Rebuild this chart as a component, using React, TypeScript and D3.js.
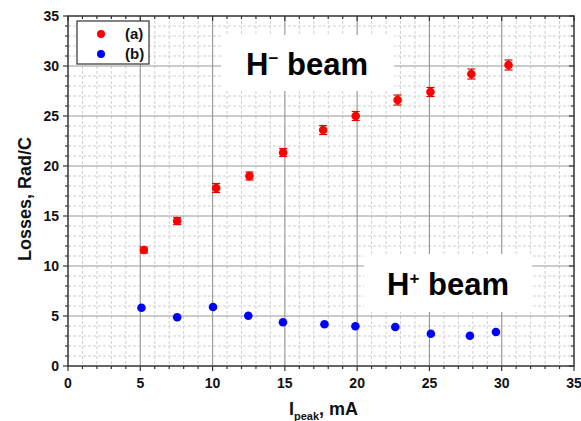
import React from "react";
import * as d3 from "d3";

const seriesA_x = [5.25, 7.55, 10.25, 12.55, 14.88, 17.65, 19.9, 22.8, 25.07, 27.9, 30.47];
const seriesA_y = [11.6, 14.5, 17.8, 19.0, 21.35, 23.6, 25.0, 26.6, 27.4, 29.2, 30.1];
const seriesA_err = [0.3, 0.35, 0.45, 0.4, 0.4, 0.45, 0.45, 0.5, 0.45, 0.5, 0.5];
const seriesB_x = [5.08, 7.55, 10.03, 12.47, 14.87, 17.74, 19.88, 22.64, 25.1, 27.8, 29.6];
const seriesB_y = [5.83, 4.87, 5.9, 5.03, 4.37, 4.17, 3.97, 3.9, 3.23, 3.03, 3.4];
const majorTicks = [0, 5, 10, 15, 20, 25, 30, 35];
const minorTicks = d3.range(0, 36, 1);
const legendLabels = ["(a)", "(b)"];

const W = 581, H = 421;
const L = 68, R = 574, T = 16, B = 366;
const FONT = "'Liberation Sans', Arial, sans-serif";

export default function App() {
  const x = d3.scaleLinear().domain([0, 35]).range([L, R]);
  const y = d3.scaleLinear().domain([0, 35]).range([B, T]);
  const fg = "#333";

  return (
    <svg width={W} height={H} style={{ position: "absolute", left: 0, top: 0, background: "#fff" }} fontFamily={FONT}>
      <rect x={0} y={0} width={W} height={H} fill="#fff" />
      {/* minor grid */}
      {minorTicks.filter(t => t % 5 !== 0).map(t => (
        <g key={"mg" + t}>
          <line x1={x(t)} x2={x(t)} y1={T} y2={B} stroke="#d0d0d0" strokeWidth={1} strokeDasharray="3,2" />
          <line x1={L} x2={R} y1={y(t)} y2={y(t)} stroke="#d0d0d0" strokeWidth={1} strokeDasharray="3,2" />
        </g>
      ))}
      {/* major grid */}
      {majorTicks.slice(1, -1).map(t => (
        <g key={"Mg" + t}>
          <line x1={x(t)} x2={x(t)} y1={T} y2={B} stroke="#9a9a9a" strokeWidth={1.2} />
          <line x1={L} x2={R} y1={y(t)} y2={y(t)} stroke="#9a9a9a" strokeWidth={1.2} />
        </g>
      ))}
      {/* text boxes */}
      <rect x={221} y={35} width={173} height={56} fill="#fff" />
      <text x={307} y={75} textAnchor="middle" fontSize={31} fontWeight="bold" fill="#000">
        H<tspan fontSize={17} dy={-11}>−</tspan><tspan dy={11}> beam</tspan>
      </text>
      <rect x={364} y={254} width={168} height={58} fill="#fff" />
      <text x={448} y={295} textAnchor="middle" fontSize={31} fontWeight="bold" fill="#000">
        H<tspan fontSize={17} dy={-11}>+</tspan><tspan dy={11}> beam</tspan>
      </text>
      {/* frame */}
      <rect x={L} y={T} width={R - L} height={B - T} fill="none" stroke={fg} strokeWidth={1.5} />
      {/* ticks */}
      {minorTicks.map(t => {
        const maj = t % 5 === 0;
        const len = maj ? 5 : 3;
        return (
          <g key={"t" + t} stroke={fg} strokeWidth={1.2}>
            <line x1={x(t)} x2={x(t)} y1={B} y2={B + len} />
            <line x1={x(t)} x2={x(t)} y1={T} y2={T + len} />
            <line x1={L - len} x2={L} y1={y(t)} y2={y(t)} />
            <line x1={R - len} x2={R} y1={y(t)} y2={y(t)} />
          </g>
        );
      })}
      {majorTicks.map(t => (
        <g key={"lab" + t} fontSize={14} fontWeight="bold" fill="#111">
          <text x={x(t)} y={B + 22} textAnchor="middle">{t}</text>
          <text x={L - 9} y={y(t) + 5} textAnchor="end">{t}</text>
        </g>
      ))}
      {/* axis titles */}
      <text transform={`translate(31, ${(T + B) / 2 + 8}) rotate(-90)`} textAnchor="middle" fontSize={18} fontWeight="bold" fill="#111">
        Losses, Rad/C
      </text>
      <text x={289} y={415} fontSize={18} fontWeight="bold" fill="#111">
        I<tspan fontSize={11} dy={5}>peak</tspan><tspan dy={-5}>, mA</tspan>
      </text>
      {/* series a with error bars */}
      {seriesA_x.map((xv, i) => {
        const cx = x(xv), e = seriesA_err[i];
        const y1 = y(seriesA_y[i] + e), y2 = y(seriesA_y[i] - e);
        return (
          <g key={"a" + i}>
            <line x1={cx} x2={cx} y1={y1} y2={y2} stroke="#e00000" strokeWidth={1.2} />
            <line x1={cx - 4} x2={cx + 4} y1={y1} y2={y1} stroke="#e00000" strokeWidth={1.2} />
            <line x1={cx - 4} x2={cx + 4} y1={y2} y2={y2} stroke="#e00000" strokeWidth={1.2} />
            <circle cx={cx} cy={y(seriesA_y[i])} r={4.3} fill="#ff0000" />
          </g>
        );
      })}
      {seriesB_x.map((xv, i) => (
        <circle key={"b" + i} cx={x(xv)} cy={y(seriesB_y[i])} r={4.3} fill="#0000ff" />
      ))}
      {/* legend */}
      <rect x={77} y={21} width={72} height={43} fill="#fff" stroke={fg} strokeWidth={1.2} />
      {legendLabels.map((lab, i) => (
        <g key={lab}>
          <circle cx={101} cy={34 + i * 20} r={4} fill={i === 0 ? "#ff0000" : "#0000ff"} />
          <text x={125} y={39 + i * 20} fontSize={15} fontWeight="bold" fill="#111">{lab}</text>
        </g>
      ))}
    </svg>
  );
}
